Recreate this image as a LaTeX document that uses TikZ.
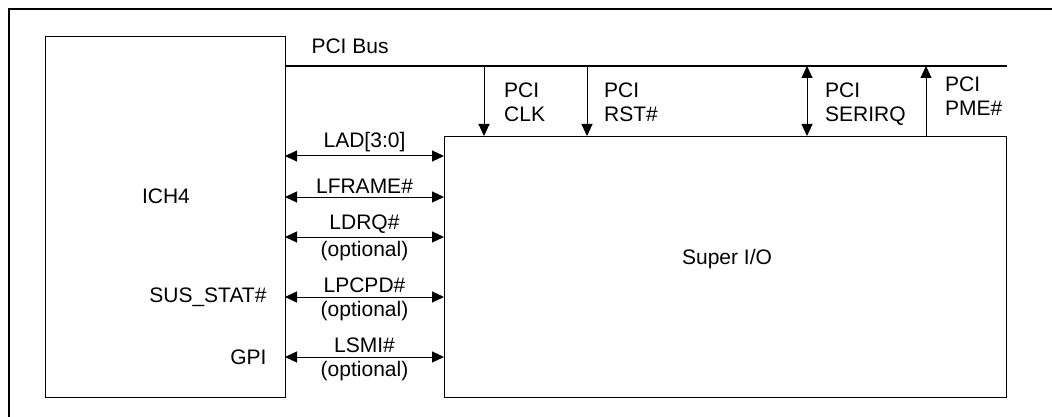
\documentclass[tikz,border=0pt]{standalone}
\usepackage{fontspec}
\setmainfont{Liberation Sans}
\usetikzlibrary{arrows.meta,positioning}

\tikzset{
  chip/.style={draw, line width=1.2pt, inner sep=0pt, anchor=north west},
  bus/.style={line width=2pt},
  sig/.style={line width=1pt, {Triangle[length=12pt,width=11pt]}-{Triangle[length=12pt,width=11pt]}},
  down/.style={line width=1pt, -{Triangle[length=12pt,width=11pt]}},
  up/.style={line width=1pt, {Triangle[length=12pt,width=11pt]}-},
  lbl/.style={anchor=west, align=left, inner sep=0pt}
}

\begin{document}
\begin{tikzpicture}[x=1pt, y=-1pt, font=\fontsize{21}{24}\selectfont]
  \useasboundingbox (0,0) rectangle (1052,417);
  % outer frame, only top and left edges are on the page
  \draw[line width=2pt] (9,430) -- (9,9) -- (1065,9);

  % the two chips
  \node[chip, minimum width=240pt, minimum height=361pt] (ich) at (45,36) {};
  \node[chip, minimum width=562pt, minimum height=261pt] (sio) at (444,136) {};
  \node (ichname) at (166,196) {ICH4};
  \node[anchor=east] (susstat) at (270,297) {SUS\_STAT\#};
  \node[anchor=east] (gpi) at (270,357) {GPI};
  \node (sioname) at (727,259) {Super I/O};

  % PCI bus and its taps
  \coordinate (busL) at (285,66);
  \coordinate (busR) at (1007,66);
  \draw[bus] (busL) -- (busR);
  \node[anchor=west] (buslabel) at (308,46) {PCI Bus};

  \coordinate (clk) at (484,66);
  \coordinate (rst) at (587,66);
  \coordinate (serirq) at (807,66);
  \coordinate (pme) at (926,66);
  \draw[down] (clk) -- (clk |- sio.north);
  \draw[down] (rst) -- (rst |- sio.north);
  \draw[sig] (serirq) -- (serirq |- sio.north);
  \draw[up] (pme) -- (pme |- sio.north);
  \node[lbl] (clklabel) at (504,102) {PCI\\CLK};
  \node[lbl] (rstlabel) at (604,102) {PCI\\RST\#};
  \node[lbl] (serirqlabel) at (825,104) {PCI\\SERIRQ};
  \node[lbl] (pmelabel) at (945,96) {PCI\\PME\#};

  % LPC signals between the chips
  \coordinate (lad) at (285,156);
  \coordinate (lframe) at (285,197);
  \coordinate (ldrq) at (285,237);
  \coordinate (lpcpd) at (285,297);
  \coordinate (lsmi) at (285,357);
  \draw[sig] (lad) -- node[above=0pt] (ladlabel) {LAD[3:0]} (lad -| sio.west);
  \draw[sig] (lframe) -- node[above=0pt] (lframelabel) {LFRAME\#} (lframe -| sio.west);
  \draw[sig] (ldrq) -- node[above=0pt] (ldrqlabel) {LDRQ\#}
                       node[below=0pt] (ldrqopt) {(optional)} (ldrq -| sio.west);
  \draw[sig] (lpcpd) -- node[above=0pt] (lpcpdlabel) {LPCPD\#}
                        node[below=0pt] (lpcpdopt) {(optional)} (lpcpd -| sio.west);
  \draw[sig] (lsmi) -- node[above=0pt] (lsmilabel) {LSMI\#}
                       node[below=0pt] (lsmiopt) {(optional)} (lsmi -| sio.west);
\end{tikzpicture}
\end{document}
